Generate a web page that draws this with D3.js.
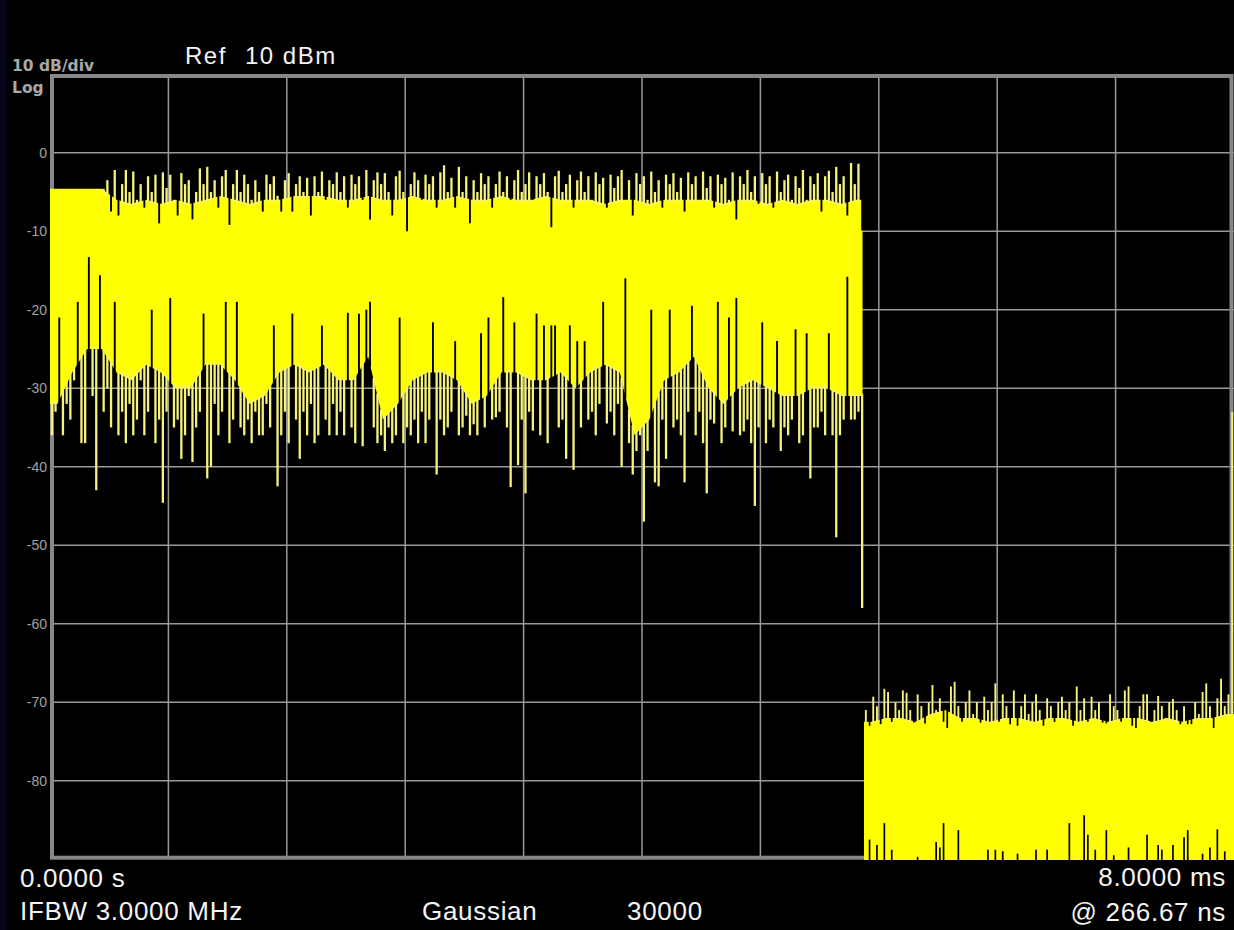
<!DOCTYPE html>
<html><head><meta charset="utf-8">
<script src="https://cdn.jsdelivr.net/npm/d3@7"></script>
<style>html,body{margin:0;padding:0;background:#000;overflow:hidden}</style>
</head><body>
<svg id="c" width="1234" height="930"></svg>
<script>
// ---------------- DATA ----------------
const xDomain = [0, 8];            // sweep time, ms
const yDomain = [-90, 10];         // dBm (Ref 10 dBm, 10 dB/div)
const yTickValues = [0, -10, -20, -30, -40, -50, -60, -70, -80];
const yTickLabels = ["0", "-10", "-20", "-30", "-40", "-50", "-60", "-70", "-80"];
const xGridStep = 0.8;             // ms per division
const sampleStep = 0.025;          // ms per displayed column
const coreStep = 0.1;              // ms per envelope point
const edgeTime = 5.49;             // ms, end of burst
const floorStart = 5.5;            // ms, start of noise floor

// burst: column maxima / minima (dBm)
const sigHi = [
-4.6,-4.6,-4.6,-4.6,-4.6,-4.6,-4.6,-4.6,-4.6,-4.6,
-4.6,-4.6,-4.6,-4.6,-4.6,-3.5,-7.5,-2.2,-8,-4,
-2.2,-5,-2.4,-6,-4,-7,-3,-5,-2.8,-9,
-2.5,-4.5,-2.8,-6,-8,-2.6,-4,-3.5,-8.5,-5,
-2,-4,-1.8,-5,-3.5,-7,-3,-2.2,-9.2,-4,
-2.2,-5,-2.8,-4,-6,-3.5,-5,-7.5,-2.8,-4,
-3,-5.5,-7.5,-3.5,-2.6,-7.5,-4,-3,-5,-3.2,
-8,-3,-5,-2.4,-6,-3.5,-4,-2.5,-5,-3,
-7,-2.8,-4,-3,-6,-2.2,-8.5,-3.5,-2.5,-4,
-2.6,-5,-8,-3,-2.3,-5,-10,-4,-2.5,-3.5,
-6,-2.8,-4,-3,-7,-2.5,-1.6,-5,-3.2,-7,
-1.8,-5,-3,-9,-3.5,-5,-2.6,-4,-3,-7,
-4,-2.4,-5,-3,-6,-3.5,-2.2,-5,-4,-2.5,
-6,-3,-4,-2.6,-5,-9.5,-3,-2.3,-5,-4,
-2.8,-7,-3.5,-2.4,-5,-3,-6,-2.5,-4,-3.2,
-7,-2.8,-4.5,-3,-2.2,-6,-3.5,-8,-2.6,-4,
-3,-6,-2.4,-5,-3.5,-7,-2.8,-4,-2.6,-5,
-3.2,-7.5,-2.5,-4,-3,-6,-2.4,-4.5,-3,-7,
-2.8,-4,-3.2,-6,-2.5,-8.5,-3,-4,-2.2,-5,
-3,-6.5,-2.6,-4,-3,-7,-2.4,-5,-3.5,-2.8,
-6,-3,-4.5,-2.2,-6,-3,-4,-2.6,-7.5,-3,
-2.3,-5,-1.8,-4,-3,-8,-1.3,-4,-1.4,-9.9
];
const sigLo = [
-36,-33,-21,-36,-32,-34,-29,-19,-37,-37,
-13.3,-31,-43,-15.6,-33,-30,-35,-19,-36,-33,
-37,-32,-36,-34,-29,-36,-33,-20,-37,-34,
-44.6,-33,-18.5,-35,-34,-39,-36,-31,-39.4,-35,
-33,-20.5,-41.5,-40,-32,-36,-33,-19,-37,-34,
-19,-35,-36,-34,-37,-33,-36,-36,-32,-35,
-22,-42.5,-36,-33,-37,-20.5,-34,-39,-33,-36,
-32,-37,-36,-22,-34,-36,-32,-36,-33,-36,
-20.4,-35,-37,-20.5,-37.4,-20,-19,-35,-37,-36,
-38,-35,-37,-36,-21,-37,-35,-36,-34,-37,
-33,-37,-34,-21.6,-41,-34,-36,-35,-33,-24,
-36,-35,-33.5,-36,-34.6,-36,-23,-35,-21,-34,
-33.7,-33,-18.4,-35,-42.6,-21.6,-39.8,-34,-43.4,-33,
-35.4,-20.5,-36,-22,-37,-22,-22,-35,-34,-39,
-22,-40.4,-24,-35,-24,-34,-33,-36,-32,-19,
-34.5,-33,-36,-32,-40,-16,-37,-41,-38,-36,
-47,-38,-20,-42,-42.5,-34,-39,-20,-35,-34,
-36,-42,-33,-19.5,-36,-33,-37,-43.4,-34,-34.5,
-19,-37,-35,-21,-35.5,-18.5,-36,-35.5,-34,-37,
-45,-35,-21.6,-37,-34,-35,-24,-38,-35,-36,
-34,-22.5,-37,-36,-23,-41.5,-35,-35,-33,-36,
-23,-36,-49,-36,-34,-15.8,-34,-34,-33,-58
];
// burst: solid envelope (dBm), one point per 0.1 ms
const sigCoreTop = [
-4.6,-4.6,-4.6,-4.6,-6,-6.5,-6,-6.5,-6,-6.5,
-6,-5.5,-6,-6.5,-6,-6,-5.5,-5.5,-5.5,-6,
-6,-5.5,-6,-6,-5.5,-6,-6,-5.5,-6,-6,
-5.5,-6,-6,-5.5,-6,-6,-6,-6.5,-6,-6,
-6.5,-6,-6,-6,-6,-6.5,-6,-6,-6.5,-6,
-6.5,-6,-6,-6.5,-6
];
const sigCoreBot = [
-32,-28,-25,-25,-28,-29,-27,-28,-30,-30,
-27,-27,-29,-32,-31,-28,-27,-28,-27,-29,
-29,-26,-34,-32,-29,-28,-28,-29,-32,-31,
-28,-28,-29,-29,-28,-30,-28,-27,-28,-36,
-34,-29,-28,-26,-30,-32,-30,-29,-30,-31,
-31,-30,-30,-31,-31
];
// noise floor: column maxima / minima (dBm)
const floorHi = [
-71,-73,-69.3,-70.5,-72.8,-68.3,-68.7,-72.5,-70,-71,
-68.5,-68.8,-71,-72.6,-69,-70.5,-72.7,-70,-67.8,-71,
-69.5,-72.5,-73.3,-68,-67.4,-70.5,-72.5,-70,-68.5,-71.5,
-70,-72.6,-69.3,-71,-70,-67.6,-72.5,-69,-70.5,-72.8,
-68.5,-73,-70.5,-69,-71.5,-70,-69,-71,-73,-69.5,
-70.5,-72.5,-70,-69.3,-71,-70,-73,-68,-71,-69.5,
-72.5,-69.3,-71,-70,-72.6,-72.7,-69,-70.5,-71,-72.5,
-68.5,-68,-73,-73.3,-70.5,-69,-69,-72.5,-71,-69.2,
-70.5,-72,-70,-69.6,-71,-72.8,-70.5,-72.8,-72.8,-70,
-71.5,-68.7,-67.6,-70.5,-73.3,-69.5,-67,-70.5,-69,-33
];
const floorLo = [
-92,-87.5,-92,-88.2,-92,-85.4,-92,-88.8,-92,-92,
-92,-92,-92,-92,-89.7,-92,-92,-92,-92,-87.8,
-88.5,-85.4,-92,-92,-92,-86.3,-92,-92,-92,-92,
-92,-92,-92,-88.8,-92,-88.8,-92,-89,-92,-92,
-92,-89.3,-92,-92,-92,-92,-88.8,-92,-92,-88.8,
-92,-92,-92,-92,-92,-85.4,-92,-92,-92,-84.4,
-86.9,-92,-88.8,-92,-92,-86.3,-92,-89.5,-92,-92,
-92,-88.5,-92,-92,-92,-92,-86.9,-92,-92,-88.2,
-88.8,-92,-92,-88.2,-92,-92,-87.2,-86.3,-92,-92,
-92,-89.3,-92,-88.5,-92,-86.2,-92,-89,-92,-92
];
const floorCoreTop = [
-72.5,-72,-72,-72.5,-71.5,-71,-72,-72,-72.5,-72,
-72,-72.5,-72,-72,-72.5,-72,-72.5,-72,-72,-72.5,
-72,-72.5,-72,-72,-71.5
];
const floorCoreBot = [
-92,-92,-92,-92,-92,-92,-92,-92,-92,-92,
-92,-92,-92,-92,-92,-92,-92,-92,-92,-92,
-92,-92,-92,-92,-92
];

// ---------------- RENDER ----------------
const W = 1234, H = 930;
const svg = d3.select("#c");
const x = d3.scaleLinear().domain(xDomain).range([50, 1234]);
const y = d3.scaleLinear().domain(yDomain).range([859.2, 74.2]);

svg.append("rect").attr("width", W).attr("height", H).attr("fill", "#000");
svg.append("rect").attr("width", 7).attr("height", H).attr("fill", "#05051a");

// grid
const grid = svg.append("g").attr("stroke", "#9a9a9a").attr("stroke-width", 1.5);
grid.selectAll("line.v").data(d3.range(1, 10)).join("line").attr("class", "v")
  .attr("x1", d => x(d * xGridStep)).attr("x2", d => x(d * xGridStep))
  .attr("y1", y(10)).attr("y2", y(-90));
grid.selectAll("line.h").data(yTickValues).join("line").attr("class", "h")
  .attr("x1", x(0)).attr("x2", x(8))
  .attr("y1", d => y(d)).attr("y2", d => y(d));

// frame
svg.append("rect").attr("x", 52).attr("y", 76).attr("width", 1231.5 - 52).attr("height", 857.7 - 76)
  .attr("fill", "none").attr("stroke", "#878787").attr("stroke-width", 4);

// y tick labels
svg.append("g").selectAll("text").data(yTickValues).join("text")
  .attr("x", 47).attr("y", d => y(d)).attr("dy", "0.36em")
  .attr("text-anchor", "end").attr("fill", "#a0a0a0")
  .attr("font-family", "Liberation Sans, Arial, sans-serif").attr("font-size", 14)
  .text((d, i) => yTickLabels[i]);

// trace
svg.append("clipPath").attr("id", "plotclip").append("rect")
  .attr("x", 50).attr("y", 74).attr("width", 1184).attr("height", 786);
const trace = svg.append("g").attr("clip-path", "url(#plotclip)");

function corePoints(tops, bots, t0, t1) {
  const pts = tops.map((v, k) => ({ t: t0 + k * coreStep + coreStep / 2, top: v, bot: bots[k] }));
  pts.unshift({ t: t0, top: tops[0], bot: bots[0] });
  pts.push({ t: t1, top: tops[tops.length - 1], bot: bots[bots.length - 1] });
  return pts;
}
const sigCore = corePoints(sigCoreTop, sigCoreBot, 0, edgeTime);
const floorCore = corePoints(floorCoreTop, floorCoreBot, floorStart, xDomain[1]);

const area = d3.area().x(d => x(d.t)).y0(d => y(d.bot)).y1(d => y(d.top));
trace.append("path").attr("d", area(sigCore)).attr("fill", "#ffff00");
trace.append("path").attr("d", area(floorCore)).attr("fill", "#ffff00");

const bis = d3.bisector(d => d.t).right;
function coreAt(pts, t, key) {
  if (t <= pts[0].t) return pts[0][key];
  if (t >= pts[pts.length - 1].t) return pts[pts.length - 1][key];
  const i = bis(pts, t);
  const a = pts[i - 1], b = pts[i];
  const f = (t - a.t) / (b.t - a.t);
  return a[key] + (b[key] - a[key]) * f;
}

const SPIKE = "#f6f27e";
const segs = [];
function addColumns(his, los, t0, core, wSpike, wGap) {
  his.forEach((hi, i) => {
    const t = t0 + i * sampleStep + sampleStep / 2;
    const lo = los[i];
    const ct = coreAt(core, t, "top"), cb = coreAt(core, t, "bot");
    if (hi > ct) segs.push({ t, a: ct - 0.3, b: hi, c: SPIKE, w: wSpike });
    else if (hi < ct) segs.push({ t, a: ct + 0.3, b: hi, c: "#000", w: wGap });
    if (lo < cb) segs.push({ t, a: cb + 0.3, b: lo, c: SPIKE, w: wSpike });
    else if (lo > cb) segs.push({ t, a: cb - 0.3, b: lo, c: "#000", w: wGap });
  });
}
addColumns(sigHi, sigLo, 0, sigCore, 2.3, 1.9);
addColumns(floorHi, floorLo, floorStart, floorCore, 1.9, 1.7);

trace.selectAll("line.s").data(segs).join("line").attr("class", "s")
  .attr("x1", d => x(d.t)).attr("x2", d => x(d.t))
  .attr("y1", d => y(d.a)).attr("y2", d => y(d.b))
  .attr("stroke", d => d.c).attr("stroke-width", d => d.w);

// annotations
const sans = "Liberation Sans, Arial, sans-serif";
const bold = "DejaVu Sans, Verdana, sans-serif";
svg.append("text").attr("x", 12).attr("y", 71).attr("fill", "#a8a8a8")
  .attr("font-family", bold).attr("font-weight", "bold").attr("font-size", 15.5).text("10 dB/div");
svg.append("text").attr("x", 12).attr("y", 93).attr("fill", "#a8a8a8")
  .attr("font-family", bold).attr("font-weight", "bold").attr("font-size", 15.5).text("Log");
svg.append("text").attr("x", 185).attr("y", 63.5).attr("fill", "#f4f4f4")
  .attr("font-family", sans).attr("font-size", 24).attr("letter-spacing", 1.5).text("Ref");
svg.append("text").attr("x", 245).attr("y", 63.5).attr("fill", "#f4f4f4")
  .attr("font-family", sans).attr("font-size", 24).attr("letter-spacing", 1.5).text("10 dBm");

const bottomTexts = [
  { s: "0.0000 s", x: 20, y: 886.5, a: "start" },
  { s: "IFBW 3.0000 MHz", x: 20, y: 919.5, a: "start" },
  { s: "Gaussian", x: 422, y: 920, a: "start" },
  { s: "30000", x: 627, y: 920, a: "start" },
  { s: "8.0000 ms", x: 1226, y: 885.5, a: "end" },
  { s: "@ 266.67 ns", x: 1226, y: 921, a: "end" }
];
svg.append("g").selectAll("text").data(bottomTexts).join("text")
  .attr("x", d => d.x).attr("y", d => d.y).attr("text-anchor", d => d.a)
  .attr("fill", "#f4f4f4").attr("font-family", sans).attr("font-size", 26)
  .attr("letter-spacing", 0.7).text(d => d.s);
</script>
</body></html>
